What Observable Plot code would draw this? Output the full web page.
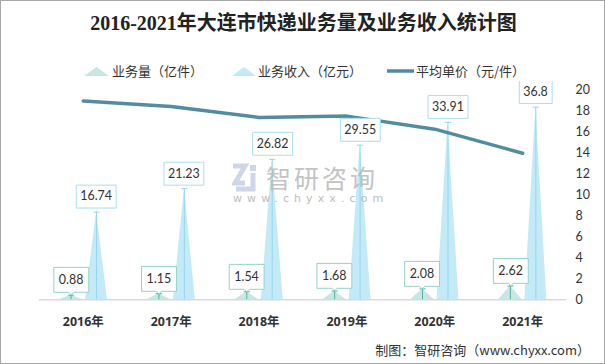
<!DOCTYPE html>
<html>
<head>
<meta charset="utf-8">
<script src="https://cdn.jsdelivr.net/npm/d3@7"></script>
<script src="https://cdn.jsdelivr.net/npm/@observablehq/plot@0.6"></script>
<style>
  html, body { margin: 0; padding: 0; background: #fff; }
  #wrap { position: relative; width: 605px; height: 364px; box-sizing: border-box; border: 1px solid #a8a8a8; overflow: hidden; font-family: "Noto Sans CJK SC", "Noto Sans", sans-serif; }
  #title { position: absolute; left: 0; top: 8px; width: 605px; text-align: center; font: bold 20px/28px "Liberation Serif", "DejaVu Serif", "Noto Sans CJK SC", serif; color: #222; }
  .leg { position: absolute; top: 61px; font-size: 13px; line-height: 18px; color: #333; white-space: nowrap; }
  .leg svg { position: absolute; }
  #chart { position: absolute; left: 0; top: 80px; }
  #caption { position: absolute; right: 14px; top: 340px; font-size: 13px; line-height: 18px; color: #333; white-space: nowrap; }
  #wm { position: absolute; left: 231px; top: 160px; pointer-events: none; opacity: 0.85; }
  #wm .cn { position: absolute; left: 34px; top: 2px; font-size: 25px; line-height: 28px; letter-spacing: 3px; color: #b9b9b9; white-space: nowrap; }
  #wm .en { position: absolute; left: 1px; top: 32px; font-size: 11px; line-height: 12px; letter-spacing: 5.1px; color: #b3b3b3; white-space: nowrap; font-family: "DejaVu Sans", sans-serif; }
</style>
</head>
<body>
<div id="wrap">
  <div id="title">2016-2021年大连市快递业务量及业务收入统计图</div>
  <div class="leg" style="left:83px;width:120px;">
    <svg width="25" height="10" style="left:0;top:4px"><polygon points="0,10 12.5,1 25,10" fill="#c8e7e2"/></svg>
    <span style="position:absolute;left:28px;top:0">业务量（亿件）</span>
  </div>
  <div class="leg" style="left:231px;width:130px;">
    <svg width="24" height="10" style="left:0;top:4px"><polygon points="0,10 12,1 24,10" fill="#c4eaf8"/></svg>
    <span style="position:absolute;left:26px;top:0">业务收入（亿元）</span>
  </div>
  <div class="leg" style="left:386px;width:140px;">
    <svg width="27" height="10" style="left:0;top:4px"><line x1="0" y1="5" x2="27" y2="5" stroke="#508ba0" stroke-width="3.5"/></svg>
    <span style="position:absolute;left:29px;top:0">平均单价（元/件）</span>
  </div>
  <div id="chart"></div>
  <div id="wm">
    <svg width="30" height="30" style="position:absolute;left:0;top:2px">
      <path d="M1,3 H13 L3,20 H13" fill="none" stroke="#c7d0e4" stroke-width="5"/>
      <rect x="18" y="2" width="6" height="6" fill="#c7d0e4"/>
      <path d="M21,10 V26 H4" fill="none" stroke="#c7d0e4" stroke-width="5"/>
    </svg>
    <div class="cn">智研咨询</div>
    <div class="en">www.chyxx.com</div>
  </div>
  <div id="caption">制图：智研咨询（www.chyxx.com）</div>
</div>
<script>
const years = ["2016年", "2017年", "2018年", "2019年", "2020年", "2021年"];
const volume = [0.88, 1.15, 1.54, 1.68, 2.08, 2.62];       // 业务量（亿件）
const revenue = [16.74, 21.23, 26.82, 29.55, 33.91, 36.8]; // 业务收入（亿元）
const price = [19.0, 18.46, 17.42, 17.55, 16.3, 14.0];     // 平均单价（元/件）
const priceTicks = [0, 2, 4, 6, 8, 10, 12, 14, 16, 18, 20];

// layout constants (in band units)
const volOff = -0.14, volHalf = 0.135;
const revOff = 0.15, revHalf = 0.125;
const capHalf = 0.035;
const priceFactor = 2; // right axis 0–20 maps onto left 0–40

const idx = years.map((_, i) => i);
const spikes = [];
idx.forEach(i => {
  const xv = i + volOff, xr = i + revOff;
  spikes.push({key: "v" + i, s: "vol", x: xv - volHalf, y: 0}, {key: "v" + i, s: "vol", x: xv, y: volume[i]}, {key: "v" + i, s: "vol", x: xv + volHalf, y: 0});
  spikes.push({key: "r" + i, s: "rev", x: xr - revHalf, y: 0}, {key: "r" + i, s: "rev", x: xr, y: revenue[i]}, {key: "r" + i, s: "rev", x: xr + revHalf, y: 0});
});

const chart = Plot.plot({
  width: 605,
  height: 260,
  marginTop: 9,
  marginBottom: 41,
  marginLeft: 38,
  marginRight: 38,
  style: {color: "#333", fontFamily: "Lato, 'Noto Sans', sans-serif", background: "transparent"},
  x: {domain: [-0.5, 5.5], axis: null, label: null},
  y: {domain: [0, 40], axis: null, label: null},
  marks: [
    Plot.areaY(spikes.filter(d => d.s === "vol"), {x: "x", y: "y", z: "key", fill: "#c8e7e2", curve: "linear"}),
    Plot.areaY(spikes.filter(d => d.s === "rev"), {x: "x", y: "y", z: "key", fill: "#c4eaf8", curve: "linear"}),
    Plot.ruleY([0], {stroke: "#d9d9d9", strokeWidth: 1.5}),
    // leader lines
    Plot.ruleX(idx, {x: i => i + revOff, y1: 0, y2: i => revenue[i], stroke: "#96d6ee", strokeWidth: 1}),
    Plot.link(idx, {x1: i => i + revOff - capHalf, x2: i => i + revOff + capHalf, y1: i => revenue[i], y2: i => revenue[i], stroke: "#96d6ee", strokeWidth: 1}),
    Plot.ruleX(idx, {x: i => i + volOff, y1: 0, y2: i => volume[i], stroke: "#4fb6a3", strokeWidth: 1}),
    Plot.link(idx, {x1: i => i + volOff - capHalf, x2: i => i + volOff + capHalf, y1: i => volume[i], y2: i => volume[i], stroke: "#4fb6a3", strokeWidth: 1}),
    // price line
    Plot.line(idx, {x: i => i, y: i => price[i] * priceFactor, stroke: "#528ca1", strokeWidth: 3.5, curve: "linear"}),
    // axes
    Plot.axisX({ticks: idx, tickFormat: i => years[i], tickSize: 0, tickPadding: 17, label: null, fontWeight: "bold", fontSize: 12.5, fill: "#333", fontFamily: "'Noto Sans', 'Noto Sans CJK SC', sans-serif"}),
    Plot.axisY({anchor: "right", ticks: priceTicks.map(d => d * priceFactor), tickFormat: d => d / priceFactor, tickSize: 0, tickPadding: 9, label: null, textAnchor: "start", fontSize: 12.5, fill: "#333"}),
    // labels
    Plot.tip(idx, {x: i => i + revOff, y: i => revenue[i], title: i => String(revenue[i]), anchor: "bottom", pointerSize: 0, dy: -4, textPadding: 4, fontSize: 12.5, stroke: "#a9def2", fill: "white", pathFilter: "none"}),
    Plot.tip(idx, {x: i => i + volOff, y: i => volume[i], title: i => String(volume[i]), anchor: "bottom", pointerSize: 5, textPadding: 5, fontSize: 12.5, stroke: "#93d3c8", fill: "white", pathFilter: "none"})
  ]
});
document.getElementById("chart").appendChild(chart);
</script>
</body>
</html>
